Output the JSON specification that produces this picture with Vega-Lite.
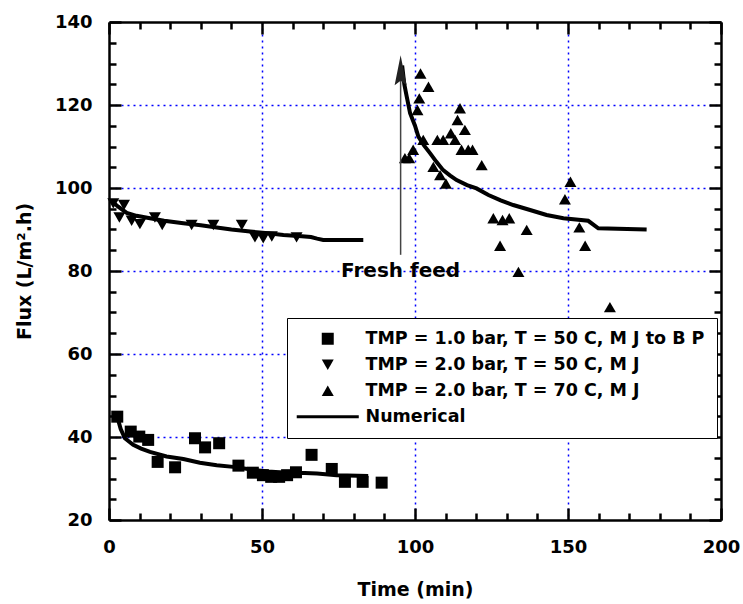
{
  "$schema": "https://vega.github.io/schema/vega-lite/v6.json",
  "width": 612,
  "height": 498,
  "autosize": "none",
  "padding": {"left": 109, "top": 22, "right": 22, "bottom": 84},
  "background": "white",
  "config": {
    "view": {"stroke": null},
    "font": "DejaVu Sans",
    "axis": {
      "domainColor": "black",
      "domainWidth": 2.5,
      "tickColor": "black",
      "tickWidth": 2.5,
      "labelFont": "DejaVu Sans",
      "labelFontWeight": "bold",
      "labelFontSize": 18,
      "labelColor": "black",
      "titleFont": "DejaVu Sans",
      "titleFontWeight": "bold",
      "titleFontSize": 19,
      "titleColor": "black",
      "labelFlush": false,
      "labelOverlap": false
    }
  },
  "datasets": {
    "points": [
      {"time": 2.7, "flux": 44.9, "series": "TMP = 1.0 bar, T = 50 C, M J to B P"},
      {"time": 7.1, "flux": 41.3, "series": "TMP = 1.0 bar, T = 50 C, M J to B P"},
      {"time": 9.9, "flux": 40.1, "series": "TMP = 1.0 bar, T = 50 C, M J to B P"},
      {"time": 12.8, "flux": 39.3, "series": "TMP = 1.0 bar, T = 50 C, M J to B P"},
      {"time": 15.9, "flux": 34.0, "series": "TMP = 1.0 bar, T = 50 C, M J to B P"},
      {"time": 21.6, "flux": 32.7, "series": "TMP = 1.0 bar, T = 50 C, M J to B P"},
      {"time": 28.1, "flux": 39.7, "series": "TMP = 1.0 bar, T = 50 C, M J to B P"},
      {"time": 31.4, "flux": 37.5, "series": "TMP = 1.0 bar, T = 50 C, M J to B P"},
      {"time": 36.0, "flux": 38.5, "series": "TMP = 1.0 bar, T = 50 C, M J to B P"},
      {"time": 42.3, "flux": 33.1, "series": "TMP = 1.0 bar, T = 50 C, M J to B P"},
      {"time": 47.0, "flux": 31.4, "series": "TMP = 1.0 bar, T = 50 C, M J to B P"},
      {"time": 50.3, "flux": 30.8, "series": "TMP = 1.0 bar, T = 50 C, M J to B P"},
      {"time": 53.0, "flux": 30.4, "series": "TMP = 1.0 bar, T = 50 C, M J to B P"},
      {"time": 55.6, "flux": 30.4, "series": "TMP = 1.0 bar, T = 50 C, M J to B P"},
      {"time": 58.2, "flux": 30.8, "series": "TMP = 1.0 bar, T = 50 C, M J to B P"},
      {"time": 61.1, "flux": 31.5, "series": "TMP = 1.0 bar, T = 50 C, M J to B P"},
      {"time": 66.2, "flux": 35.7, "series": "TMP = 1.0 bar, T = 50 C, M J to B P"},
      {"time": 72.8, "flux": 32.3, "series": "TMP = 1.0 bar, T = 50 C, M J to B P"},
      {"time": 77.1, "flux": 29.2, "series": "TMP = 1.0 bar, T = 50 C, M J to B P"},
      {"time": 82.9, "flux": 29.2, "series": "TMP = 1.0 bar, T = 50 C, M J to B P"},
      {"time": 89.1, "flux": 29.0, "series": "TMP = 1.0 bar, T = 50 C, M J to B P"},
      {"time": 1.4, "flux": 96.3, "series": "TMP = 2.0 bar, T = 50 C, M J"},
      {"time": 3.4, "flux": 92.9, "series": "TMP = 2.0 bar, T = 50 C, M J"},
      {"time": 4.9, "flux": 95.9, "series": "TMP = 2.0 bar, T = 50 C, M J"},
      {"time": 7.4, "flux": 92.1, "series": "TMP = 2.0 bar, T = 50 C, M J"},
      {"time": 10.1, "flux": 91.3, "series": "TMP = 2.0 bar, T = 50 C, M J"},
      {"time": 15.0, "flux": 92.9, "series": "TMP = 2.0 bar, T = 50 C, M J"},
      {"time": 17.4, "flux": 91.1, "series": "TMP = 2.0 bar, T = 50 C, M J"},
      {"time": 27.0, "flux": 91.1, "series": "TMP = 2.0 bar, T = 50 C, M J"},
      {"time": 34.1, "flux": 91.1, "series": "TMP = 2.0 bar, T = 50 C, M J"},
      {"time": 43.4, "flux": 91.1, "series": "TMP = 2.0 bar, T = 50 C, M J"},
      {"time": 47.7, "flux": 88.1, "series": "TMP = 2.0 bar, T = 50 C, M J"},
      {"time": 50.4, "flux": 87.9, "series": "TMP = 2.0 bar, T = 50 C, M J"},
      {"time": 53.2, "flux": 88.3, "series": "TMP = 2.0 bar, T = 50 C, M J"},
      {"time": 61.3, "flux": 88.1, "series": "TMP = 2.0 bar, T = 50 C, M J"},
      {"time": 96.7, "flux": 107.2, "series": "TMP = 2.0 bar, T = 70 C, M J"},
      {"time": 98.1, "flux": 107.2, "series": "TMP = 2.0 bar, T = 70 C, M J"},
      {"time": 99.4, "flux": 109.2, "series": "TMP = 2.0 bar, T = 70 C, M J"},
      {"time": 100.8, "flux": 118.8, "series": "TMP = 2.0 bar, T = 70 C, M J"},
      {"time": 101.4, "flux": 121.6, "series": "TMP = 2.0 bar, T = 70 C, M J"},
      {"time": 101.8, "flux": 127.6, "series": "TMP = 2.0 bar, T = 70 C, M J"},
      {"time": 102.7, "flux": 111.6, "series": "TMP = 2.0 bar, T = 70 C, M J"},
      {"time": 104.4, "flux": 124.4, "series": "TMP = 2.0 bar, T = 70 C, M J"},
      {"time": 106.0, "flux": 105.1, "series": "TMP = 2.0 bar, T = 70 C, M J"},
      {"time": 107.3, "flux": 111.6, "series": "TMP = 2.0 bar, T = 70 C, M J"},
      {"time": 108.2, "flux": 103.1, "series": "TMP = 2.0 bar, T = 70 C, M J"},
      {"time": 109.2, "flux": 111.6, "series": "TMP = 2.0 bar, T = 70 C, M J"},
      {"time": 110.1, "flux": 101.1, "series": "TMP = 2.0 bar, T = 70 C, M J"},
      {"time": 111.7, "flux": 113.2, "series": "TMP = 2.0 bar, T = 70 C, M J"},
      {"time": 113.1, "flux": 111.6, "series": "TMP = 2.0 bar, T = 70 C, M J"},
      {"time": 113.9, "flux": 116.4, "series": "TMP = 2.0 bar, T = 70 C, M J"},
      {"time": 114.7, "flux": 119.2, "series": "TMP = 2.0 bar, T = 70 C, M J"},
      {"time": 115.2, "flux": 109.2, "series": "TMP = 2.0 bar, T = 70 C, M J"},
      {"time": 116.3, "flux": 114.0, "series": "TMP = 2.0 bar, T = 70 C, M J"},
      {"time": 117.4, "flux": 109.2, "series": "TMP = 2.0 bar, T = 70 C, M J"},
      {"time": 118.8, "flux": 109.2, "series": "TMP = 2.0 bar, T = 70 C, M J"},
      {"time": 121.8, "flux": 105.5, "series": "TMP = 2.0 bar, T = 70 C, M J"},
      {"time": 125.6, "flux": 92.7, "series": "TMP = 2.0 bar, T = 70 C, M J"},
      {"time": 127.8, "flux": 86.1, "series": "TMP = 2.0 bar, T = 70 C, M J"},
      {"time": 128.6, "flux": 92.3, "series": "TMP = 2.0 bar, T = 70 C, M J"},
      {"time": 130.8, "flux": 92.7, "series": "TMP = 2.0 bar, T = 70 C, M J"},
      {"time": 133.8, "flux": 79.8, "series": "TMP = 2.0 bar, T = 70 C, M J"},
      {"time": 136.5, "flux": 89.9, "series": "TMP = 2.0 bar, T = 70 C, M J"},
      {"time": 149.0, "flux": 97.3, "series": "TMP = 2.0 bar, T = 70 C, M J"},
      {"time": 150.8, "flux": 101.5, "series": "TMP = 2.0 bar, T = 70 C, M J"},
      {"time": 153.7, "flux": 90.5, "series": "TMP = 2.0 bar, T = 70 C, M J"},
      {"time": 155.6, "flux": 86.1, "series": "TMP = 2.0 bar, T = 70 C, M J"},
      {"time": 163.7, "flux": 71.3, "series": "TMP = 2.0 bar, T = 70 C, M J"}
    ],
    "model": [
      {"run": "a", "time": 2.7, "flux": 44.9},
      {"run": "a", "time": 3.8, "flux": 42.0},
      {"run": "a", "time": 5.2, "flux": 39.7},
      {"run": "a", "time": 7.9, "flux": 38.1},
      {"run": "a", "time": 10.5, "flux": 37.2},
      {"run": "a", "time": 13.4, "flux": 36.4},
      {"run": "a", "time": 18.8, "flux": 35.3},
      {"run": "a", "time": 24.3, "flux": 34.7},
      {"run": "a", "time": 29.7, "flux": 33.8},
      {"run": "a", "time": 35.2, "flux": 33.2},
      {"run": "a", "time": 40.6, "flux": 32.8},
      {"run": "a", "time": 47.0, "flux": 32.1},
      {"run": "a", "time": 52.0, "flux": 31.7},
      {"run": "a", "time": 58.0, "flux": 31.4},
      {"run": "a", "time": 64.0, "flux": 31.3},
      {"run": "a", "time": 68.0, "flux": 31.2},
      {"run": "a", "time": 74.4, "flux": 30.8},
      {"run": "a", "time": 84.7, "flux": 30.6},
      {"run": "b", "time": 1.4, "flux": 96.5},
      {"run": "b", "time": 3.0, "flux": 95.5},
      {"run": "b", "time": 5.8, "flux": 94.0},
      {"run": "b", "time": 9.0, "flux": 93.3},
      {"run": "b", "time": 13.4, "flux": 92.7},
      {"run": "b", "time": 18.0, "flux": 92.1},
      {"run": "b", "time": 24.3, "flux": 91.5},
      {"run": "b", "time": 30.0, "flux": 91.0},
      {"run": "b", "time": 35.2, "flux": 90.5},
      {"run": "b", "time": 40.0, "flux": 90.0},
      {"run": "b", "time": 46.1, "flux": 89.5},
      {"run": "b", "time": 52.0, "flux": 89.1},
      {"run": "b", "time": 57.0, "flux": 88.7},
      {"run": "b", "time": 63.0, "flux": 88.4},
      {"run": "b", "time": 66.0, "flux": 88.2},
      {"run": "b", "time": 68.0, "flux": 87.8},
      {"run": "b", "time": 70.0, "flux": 87.5},
      {"run": "b", "time": 83.1, "flux": 87.5},
      {"run": "c", "time": 95.8, "flux": 129.5},
      {"run": "c", "time": 96.5, "flux": 125.0},
      {"run": "c", "time": 97.3, "flux": 122.0},
      {"run": "c", "time": 98.4, "flux": 118.0},
      {"run": "c", "time": 100.0, "flux": 115.0},
      {"run": "c", "time": 101.1, "flux": 112.4},
      {"run": "c", "time": 103.0, "flux": 110.2},
      {"run": "c", "time": 104.9, "flux": 108.4},
      {"run": "c", "time": 107.0, "flux": 106.3},
      {"run": "c", "time": 109.2, "flux": 104.3},
      {"run": "c", "time": 111.5, "flux": 103.0},
      {"run": "c", "time": 113.6, "flux": 101.9},
      {"run": "c", "time": 117.0, "flux": 100.7},
      {"run": "c", "time": 120.1, "flux": 99.9},
      {"run": "c", "time": 124.0, "flux": 98.3},
      {"run": "c", "time": 128.0, "flux": 97.0},
      {"run": "c", "time": 132.1, "flux": 95.9},
      {"run": "c", "time": 137.6, "flux": 94.7},
      {"run": "c", "time": 143.0, "flux": 93.5},
      {"run": "c", "time": 148.5, "flux": 92.7},
      {"run": "c", "time": 156.6, "flux": 92.1},
      {"run": "c", "time": 159.9, "flux": 90.3},
      {"run": "c", "time": 175.7, "flux": 90.0}
    ],
    "note": [
      {"time": 95.3, "low": 83.9, "high": 129.0, "tip": 128.4, "textY": 80.0, "label": "Fresh feed"}
    ]
  },
  "resolve": {"axis": {"x": "independent", "y": "independent"}},
  "layer": [
    {
      "data": {"name": "model"},
      "mark": {"type": "line", "color": "black", "strokeWidth": 4},
      "encoding": {
        "x": {
          "field": "time", "type": "quantitative",
          "scale": {"domain": [0, 200]},
          "axis": {
            "orient": "bottom",
            "title": "Time (min)",
            "values": [0,10,20,30,40,50,60,70,80,90,100,110,120,130,140,150,160,170,180,190,200],
            "labelExpr": "datum.value % 50 === 0 ? datum.label : ''",
            "tickSize": {"condition": {"test": "datum.value % 50 === 0", "value": -12}, "value": -7},
            "grid": true,
            "gridColor": "#0000ff",
            "gridDash": [2, 4],
            "gridWidth": 1.5,
            "gridOpacity": {"condition": {"test": "datum.value % 50 === 0 && datum.value > 0 && datum.value < 200", "value": 1}, "value": 0},
            "labelPadding": 30,
            "titlePadding": 19
          }
        },
        "y": {
          "field": "flux", "type": "quantitative",
          "scale": {"domain": [20, 140]},
          "axis": {
            "orient": "left",
            "title": "Flux (L/m².h)",
            "values": [20,25,30,35,40,45,50,55,60,65,70,75,80,85,90,95,100,105,110,115,120,125,130,135,140],
            "labelExpr": "datum.value % 20 === 0 ? datum.label : ''",
            "tickSize": {"condition": {"test": "datum.value % 20 === 0", "value": -12}, "value": -7},
            "grid": true,
            "gridColor": "#0000ff",
            "gridDash": [2, 4],
            "gridWidth": 1.5,
            "gridOpacity": {"condition": {"test": "datum.value % 20 === 0 && datum.value > 20 && datum.value < 140", "value": 1}, "value": 0},
            "labelPadding": 29,
            "titlePadding": 20
          }
        },
        "detail": {"field": "run", "type": "nominal"}
      }
    },
    {
      "data": {"name": "points"},
      "mark": {"type": "point", "filled": true, "color": "black", "opacity": 1, "size": 144},
      "encoding": {
        "x": {"field": "time", "type": "quantitative", "scale": {"domain": [0, 200]}, "axis": null},
        "y": {"field": "flux", "type": "quantitative", "scale": {"domain": [20, 140]}, "axis": null},
        "shape": {
          "field": "series", "type": "nominal",
          "scale": {
            "domain": ["TMP = 1.0 bar, T = 50 C, M J to B P", "TMP = 2.0 bar, T = 50 C, M J", "TMP = 2.0 bar, T = 70 C, M J", "Numerical"],
            "range": ["square", "triangle-down", "triangle-up", "M-5.17,-0.27H5.17V0.27H-5.17Z"]
          },
          "legend": {
            "orient": "none",
            "legendX": 178,
            "legendY": 296,
            "title": null,
            "strokeColor": "black",
            "fillColor": "white",
            "padding": 12,
            "labelFont": "DejaVu Sans",
            "labelFontWeight": "bold",
            "labelFontSize": 17.5,
            "labelColor": "black",
            "labelLimit": 600,
            "symbolSize": 144,
            "symbolOffset": 20,
            "labelOffset": 29,
            "rowPadding": 7,
            "symbolStrokeWidth": 0,
            "symbolFillColor": "black",
            "encode": {"legend": {"update": {"strokeWidth": {"value": 2}}}}
          }
        }
      }
    },
    {
      "data": {"name": "note"},
      "mark": {"type": "rule", "color": "#444444", "strokeWidth": 1.5},
      "encoding": {
        "x": {
          "field": "time", "type": "quantitative",
          "scale": {"domain": [0, 200]},
          "axis": {
            "orient": "top",
            "title": null,
            "labels": false,
            "grid": false,
            "values": [0,10,20,30,40,50,60,70,80,90,100,110,120,130,140,150,160,170,180,190,200],
            "tickSize": {"condition": {"test": "datum.value % 50 === 0", "value": -12}, "value": -7}
          }
        },
        "y": {
          "field": "low", "type": "quantitative",
          "scale": {"domain": [20, 140]},
          "axis": {
            "orient": "right",
            "title": null,
            "labels": false,
            "grid": false,
            "values": [20,25,30,35,40,45,50,55,60,65,70,75,80,85,90,95,100,105,110,115,120,125,130,135,140],
            "tickSize": {"condition": {"test": "datum.value % 20 === 0", "value": -12}, "value": -7}
          }
        },
        "y2": {"field": "high"}
      }
    },
    {
      "data": {"name": "note"},
      "mark": {"type": "point", "filled": true, "color": "#222222", "opacity": 1, "size": 900, "shape": "M0,-1L0.4,1L0,0.7L-0.4,1Z"},
      "encoding": {
        "x": {"field": "time", "type": "quantitative", "scale": {"domain": [0, 200]}, "axis": null},
        "y": {"field": "tip", "type": "quantitative", "scale": {"domain": [20, 140]}, "axis": null}
      }
    },
    {
      "data": {"name": "note"},
      "mark": {"type": "text", "font": "DejaVu Sans", "fontWeight": "bold", "fontSize": 20, "align": "center", "baseline": "middle", "color": "black"},
      "encoding": {
        "x": {"field": "time", "type": "quantitative", "scale": {"domain": [0, 200]}, "axis": null},
        "y": {"field": "textY", "type": "quantitative", "scale": {"domain": [20, 140]}, "axis": null},
        "text": {"field": "label"}
      }
    }
  ]
}
